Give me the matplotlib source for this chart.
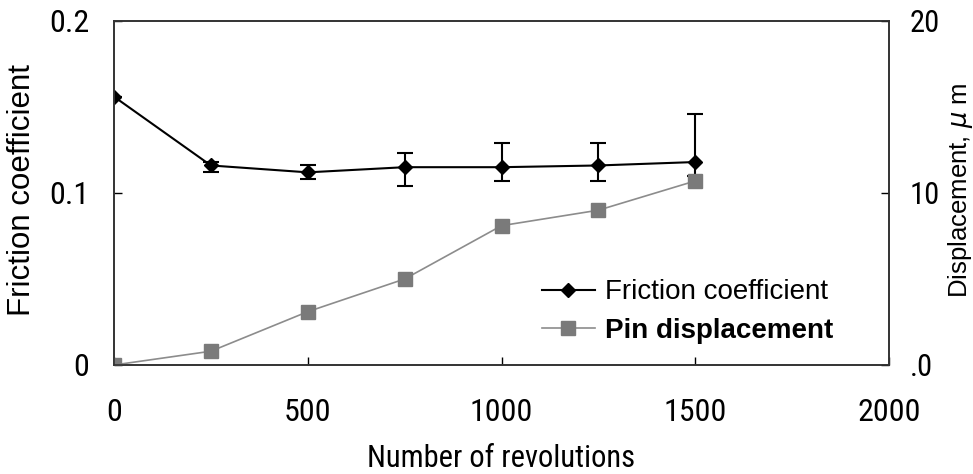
import numpy as np
import matplotlib
matplotlib.use("Agg")
import matplotlib.pyplot as plt

# Wear test: friction coefficient and pin displacement vs revolutions
revs = [0, 250, 500, 750, 1000, 1250, 1500]
friction = [0.156, 0.116, 0.112, 0.115, 0.115, 0.116, 0.118]
fric_upper = [0.156, 0.118, 0.116, 0.123, 0.129, 0.129, 0.146]
fric_lower = [0.156, 0.112, 0.108, 0.104, 0.107, 0.107, 0.110]
displacement = [0.0, 0.8, 3.1, 5.0, 8.1, 9.0, 10.7]

narrow = ["Roboto Condensed", "Liberation Sans Narrow", "Liberation Sans", "DejaVu Sans"]
plain = ["Liberation Sans", "DejaVu Sans"]
plt.rcParams["font.family"] = narrow

fig = plt.figure(figsize=(9.73, 4.74), dpi=100)
ax = fig.add_axes([0.1172, 0.23, 0.7965, 0.7257])
ax2 = ax.twinx()

fric = np.array(friction)
yerr = [fric - np.array(fric_lower), np.array(fric_upper) - fric]
ax.errorbar(revs, friction, yerr=yerr, fmt="none", ecolor="black",
            elinewidth=1.5, capsize=5.5, capthick=1.5)
ln1, = ax.plot(revs, friction, color="black", lw=1.5, marker="D",
               markersize=7, label="Friction coefficient")
ln2, = ax2.plot(revs, displacement, color="#8c8c8c", lw=1.2, marker="s",
                markersize=10, markerfacecolor="#7a7a7a",
                markeredgecolor="#7a7a7a", label="Pin displacement")

ax.set_xlim(0, 2000)
ax.set_ylim(0, 0.2)
ax2.set_ylim(0, 20)
ax.set_xticks([0, 500, 1000, 1500, 2000])
ax.set_yticks([0, 0.1, 0.2])
ax.set_yticklabels(["0", "0.1", "0.2"])
ax2.set_yticks([0, 10, 20])
ax2.set_yticklabels([".0", "10", "20"])

ax.tick_params(axis="both", direction="in", length=6, width=1,
               labelsize=23)
ax.tick_params(axis="y", pad=18)
ax.tick_params(axis="x", pad=24)
ax2.tick_params(axis="y", direction="in", length=6, width=1,
                labelsize=22, pad=15)
for a in (ax, ax2):
    for sp in a.spines.values():
        sp.set_linewidth(1.2)
        sp.set_color("#333333")

ax.set_xlabel("Number of revolutions", fontsize=22, va="center")
ax.xaxis.set_label_coords(0.5, -0.272)
ax.set_ylabel("Friction coefficient", fontsize=22.5, family=plain,
              va="center")
ax.yaxis.set_label_coords(-0.119, 0.509)
ax2.set_ylabel("Displacement, $\\mu$ m", fontsize=18.5, family=plain,
               va="center", rotation=90)
ax2.yaxis.set_label_coords(1.092, 0.509)

leg = ax2.legend(handles=[ln1, ln2], loc="center left",
                 bbox_to_anchor=(0.552, 0.1555), frameon=False,
                 borderpad=0, borderaxespad=0,
                 handlelength=1.9, handletextpad=0.36, labelspacing=0.45,
                 prop={"family": plain, "size": 20})
leg.get_texts()[1].set_fontweight("bold")

fig.savefig("out.png", dpi=100)
